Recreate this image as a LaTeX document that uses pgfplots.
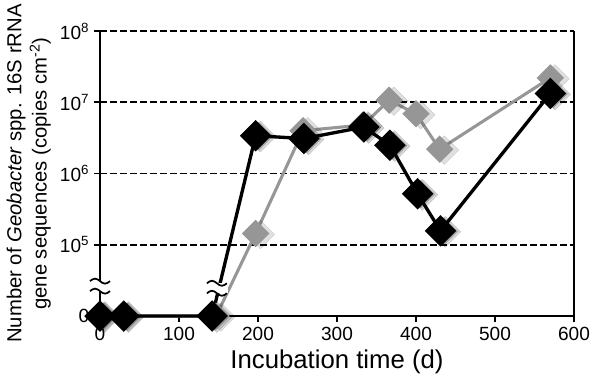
\documentclass[border=0pt]{standalone}
\usepackage{fontspec}
\setmainfont{Liberation Sans}
\usepackage{pgfplots}
\usepackage{pgfplotstable}
\pgfplotsset{compat=1.18}

\definecolor{seriesgray}{RGB}{150,150,150}
\newdimen\px \px=0.75pt

% day, Geobacter 16S rRNA gene copies per cm^2 (0 = not detected)
\pgfplotstableread{
day copies
0 0
30 0
142 0
197 3.4e6
258 3.1e6
334 4.5e6
367 2.5e6
402 5.2e5
431 1.57e5
570 1.33e7
}\blackdata

\pgfplotstableread{
day copies
0 0
30 0
147 0
197 1.44e5
257 4.0e6
333 4.8e6
366 1.07e7
400 6.9e6
430 2.2e6
570 2.2e7
}\graydata

% axis-break symbol: two small waves with a white gap between them
\newcommand\breakmark[1]{%
  \begin{scope}[shift={(#1)}]
    \fill[white] (-11\px,-5\px) rectangle (11\px,5\px);
    \draw[line width=1.3pt] (-10\px,5\px) sin (-5\px,7.5\px) cos (0\px,5\px) sin (5\px,2.5\px) cos (10\px,5\px);
    \draw[line width=1.3pt] (-10\px,-5\px) sin (-5\px,-2.5\px) cos (0\px,-5\px) sin (5\px,-7.5\px) cos (10\px,-5\px);
  \end{scope}}

\begin{document}
\begin{tikzpicture}
\begin{axis}[
  at={(0,0)}, anchor=south west,
  scale only axis, width=474\px, height=285\px,
  xmin=0, xmax=600, ymin=4, ymax=8,
  xtick={0,100,...,600},
  ytick={4,5,6,7,8},
  yticklabels={0,10\textsuperscript{5},10\textsuperscript{6},10\textsuperscript{7},10\textsuperscript{8}},
  % zero counts sit on the "0" row below the break, others on a log10 scale
  y filter/.expression={y<=0 ? 4 : ln(max(y,1))/ln(10)},
  axis x line*=bottom, axis y line*=left,
  axis line style={line width=1.5pt, -},
  tick align=outside, major tick length=6\px,
  tick style={line width=1.3pt, black},
  ymajorgrids,
  grid style={line width=1.4pt, black, dash pattern=on 5pt off 2.5pt},
  clip=false,
  /pgf/number format/assume math mode=true,
  tick label style={font=\fontsize{14.3}{16}\selectfont},
  xlabel={Incubation time (d)},
  xlabel style={font=\fontsize{19.3}{22}\selectfont},
  ylabel={Number of \textit{Geobacter} spp. 16S rRNA\\gene sequences (copies cm\textsuperscript{-2})},
  ylabel style={align=center, font=\fontsize{15.2}{19}\selectfont},
]
% soft drop shadows under the markers
\addplot[draw=none, mark=square*, mark size=7.6pt, mark options={rotate=45, fill=black, draw=none, opacity=0.12, xshift=2pt, yshift=-3pt}] table[x=day,y=copies]{\graydata};
\addplot[draw=none, mark=square*, mark size=8.2pt, mark options={rotate=45, fill=black, draw=none, opacity=0.15, xshift=2pt, yshift=-3pt}] table[x=day,y=copies]{\blackdata};
\addplot[draw=none, mark=square*, mark size=7.3pt, mark options={rotate=45, fill=black, draw=none, opacity=0.2, xshift=1.5pt, yshift=-2pt}] table[x=day,y=copies]{\blackdata};
% series
\addplot[seriesgray, line width=2.3pt, mark=square*, mark size=6.1pt, mark options={rotate=45, fill=seriesgray, draw=none}] table[x=day,y=copies]{\graydata};
\addplot[black, line width=2.5pt, mark=square*, mark size=7.1pt, mark options={rotate=45, fill=black, draw=none}] table[x=day,y=copies]{\blackdata};
% right frame line
\draw[line width=0.8pt] (rel axis cs:1,0) -- (rel axis cs:1,1);
\coordinate (brkY) at (axis cs:0,4.42);
\coordinate (brkL) at (axis cs:148,4.39);
\end{axis}
% axis breaks
\breakmark{brkY}
\breakmark{brkL}
% page frame
\path (-100\px,-71\px) rectangle (498\px,316\px);
\end{tikzpicture}
\end{document}
